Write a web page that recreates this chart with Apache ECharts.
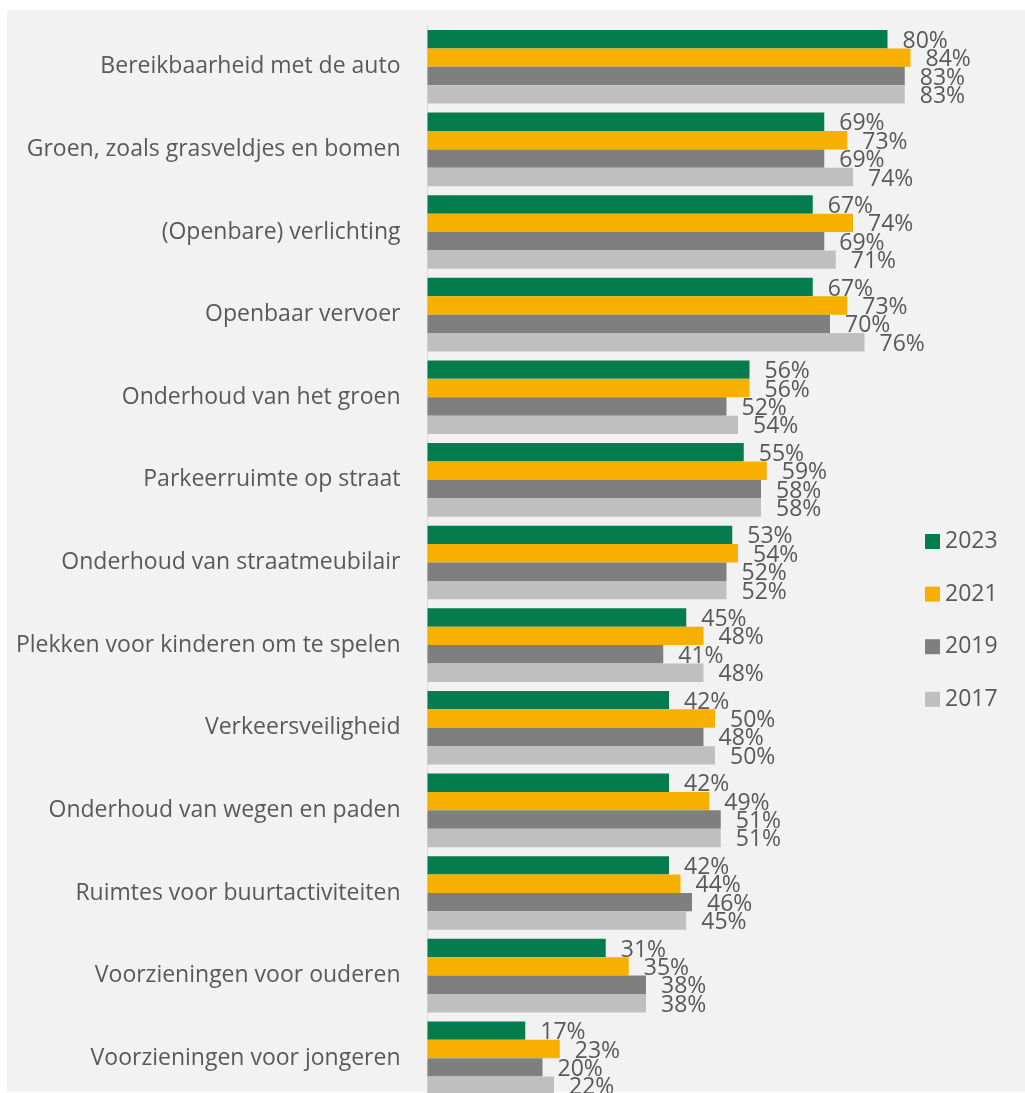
<!DOCTYPE html>
<html>
<head>
<meta charset="utf-8">
<script src="https://cdn.jsdelivr.net/npm/echarts@6/dist/echarts.min.js"></script>
<style>
html,body{margin:0;padding:0;background:#ffffff;overflow:hidden;}
#chart{width:1025px;height:1110px;}
</style>
</head>
<body>
<div id="chart"></div>
<script>
const categories = [
  "Bereikbaarheid met de auto",
  "Groen, zoals grasveldjes en bomen",
  "(Openbare) verlichting",
  "Openbaar vervoer",
  "Onderhoud van het groen",
  "Parkeerruimte op straat",
  "Onderhoud van straatmeubilair",
  "Plekken voor kinderen om te spelen",
  "Verkeersveiligheid",
  "Onderhoud van wegen en paden",
  "Ruimtes voor buurtactiviteiten",
  "Voorzieningen voor ouderen",
  "Voorzieningen voor jongeren"
];
const seriesNames = ["2023", "2021", "2019", "2017"];
const values2023 = [80, 69, 67, 67, 56, 55, 53, 45, 42, 42, 42, 31, 17];
const values2021 = [84, 73, 74, 73, 56, 59, 54, 48, 50, 49, 44, 35, 23];
const values2019 = [83, 69, 69, 70, 52, 58, 52, 41, 48, 51, 46, 38, 20];
const values2017 = [83, 74, 71, 76, 54, 58, 52, 48, 50, 51, 45, 38, 22];
const seriesValues = [values2023, values2021, values2019, values2017];
const colors = ["#047C4E", "#F7B000", "#7F7F7F", "#BFBFBF"];

const FONT = "'Open Sans', 'Noto Sans', sans-serif";
const TEXT = "#595959";
const FS = 23;

const chart = echarts.init(document.getElementById('chart'), null, {renderer: 'canvas'});
const option = {
  backgroundColor: '#ffffff',
  animation: false,
  graphic: [{
    type: 'rect', silent: true, z: -10,
    shape: {x: 7, y: 10, width: 1018, height: 1082},
    style: {fill: '#F2F2F2'}
  }],
  legend: {
    orient: 'vertical',
    left: 925,
    top: 530,
    padding: 0,
    icon: 'rect',
    itemWidth: 15,
    itemHeight: 15,
    itemGap: 29.6,
    data: seriesNames,
    textStyle: {fontFamily: FONT, fontSize: FS, lineHeight: 20, color: TEXT}
  },
  grid: {left: 427.5, width: 575, top: 25.5, height: 1074, containLabel: false},
  xAxis: {
    type: 'value', min: 0, max: 100, show: false
  },
  yAxis: {
    type: 'category',
    inverse: true,
    data: categories,
    axisLine: {show: true, lineStyle: {color: '#D9D9D9', width: 1}},
    axisTick: {show: false},
    splitLine: {show: false},
    axisLabel: {margin: 27, fontFamily: FONT, fontSize: FS, color: TEXT}
  },
  series: seriesNames.map((name, i) => ({
    name: name,
    type: 'bar',
    data: seriesValues[i],
    barGap: '0%',
    barCategoryGap: '10.9%',
    itemStyle: {color: colors[i]},
    label: {
      show: true,
      position: 'right',
      distance: 15,
      offset: [0, 2],
      formatter: p => p.value + '%',
      fontFamily: FONT,
      fontSize: FS,
      color: TEXT
    }
  }))
};
chart.setOption(option);
</script>
</body>
</html>
